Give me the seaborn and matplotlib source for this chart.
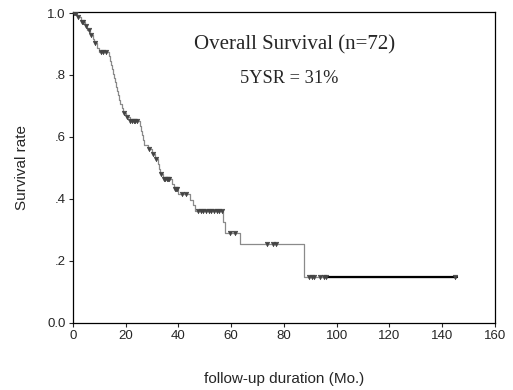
import numpy as np
import pandas as pd
import matplotlib
matplotlib.use("Agg")
import matplotlib.pyplot as plt
import seaborn as sns

# Kaplan-Meier step data (time in months, survival after the drop)
event_times = [0, 1.5, 3, 4.5, 5.5, 6.5, 7.5, 8.2, 9.0, 10.0, 13.7, 14.0, 14.4, 14.8,
               15.2, 15.5, 15.8, 16.2, 16.6, 17.0, 17.5, 18.0, 18.5, 19.0, 20.0, 21.5,
               25.5, 25.9, 26.2, 26.6, 27.0, 28.5, 30.0, 31.0, 32.3, 32.7, 33.0, 34.0,
               37.6, 38.2, 40.0, 44.5, 45.5, 46.4, 57.0, 57.6, 63.3, 87.5]
survival = [1.0, 0.986, 0.972, 0.958, 0.944, 0.930, 0.916, 0.902, 0.888, 0.874, 0.860,
            0.846, 0.832, 0.818, 0.804, 0.790, 0.776, 0.762, 0.748, 0.734, 0.720, 0.706,
            0.692, 0.678, 0.664, 0.650, 0.635, 0.620, 0.605, 0.590, 0.575, 0.560, 0.545,
            0.530, 0.514, 0.498, 0.482, 0.466, 0.449, 0.432, 0.415, 0.397, 0.379, 0.361,
            0.325, 0.290, 0.255, 0.148]
last_followup = 145.5

# censored observations (months)
censor_times = [0.5, 1.0, 1.2, 2.0, 3.5, 4.0, 5.0, 6.0, 7.0, 8.5, 10.5, 11.5, 12.5,
                19.5, 20.5, 21.8, 22.5, 23.0, 23.5, 24.2, 29.0, 30.5, 31.5, 33.5, 34.5,
                35.0, 35.5, 36.0, 36.5, 38.6, 39.2, 39.6, 41.5, 43.0, 47.5, 48.5, 49.5,
                50.5, 51.5, 52.5, 53.5, 54.5, 55.5, 56.5, 59.5, 61.5, 73.5, 76.0, 77.0,
                89.5, 90.5, 91.5, 93.5, 95.0, 96.0, 145.0]

xticks = [0, 20, 40, 60, 80, 100, 120, 140, 160]
yticks = [0.0, 0.2, 0.4, 0.6, 0.8, 1.0]
ytick_labels = ["0.0", ".2", ".4", ".6", ".8", "1.0"]

title_text = "Overall Survival (n=72)"
sub_text = "5YSR = 31%"

sns.set_style("ticks")
plt.rcParams["font.family"] = ["Liberation Sans", "DejaVu Sans"]

fig = plt.figure(figsize=(5.13, 3.90), dpi=100)
ax = fig.add_axes([0.142, 0.172, 0.823, 0.797])

steps = pd.DataFrame({"time": event_times + [last_followup],
                      "surv": survival + [survival[-1]]})
sns.lineplot(data=steps, x="time", y="surv", drawstyle="steps-post",
             color="#8a8a8a", lw=0.9, ax=ax, estimator=None, sort=False)
tail = steps.iloc[-2:].copy()
tail.iloc[0, 0] = 96.0
sns.lineplot(data=tail, x="time", y="surv", color="black", lw=1.6, ax=ax,
             estimator=None, sort=False)

et = np.array(event_times)
sv = np.array(survival)
c_idx = np.searchsorted(et, np.array(censor_times), side="right") - 1
cens = pd.DataFrame({"time": censor_times, "surv": sv[c_idx]})
sns.scatterplot(data=cens, x="time", y="surv", marker="v", s=11,
                color="#444444", edgecolor="#444444", linewidth=0.4, ax=ax, zorder=3)

ax.set_xlim(0, 160)
ax.set_ylim(0, 1.003)
ax.set_xticks(xticks)
ax.set_yticks(yticks)
ax.set_yticklabels(ytick_labels)
ax.tick_params(axis="both", labelsize=9.5, length=3, width=0.8, direction="out", pad=2)
for s in ax.spines.values():
    s.set_linewidth(0.9)
    s.set_color("black")

ax.set_xlabel("follow-up duration (Mo.)", fontsize=11, labelpad=22)
ax.set_ylabel("Survival rate", fontsize=11, labelpad=13)

ax.text(84, 0.897, title_text, ha="center", va="center", fontsize=15,
        family=["Liberation Serif", "DejaVu Serif"])
ax.text(82, 0.79, sub_text, ha="center", va="center", fontsize=13.2,
        family=["Liberation Serif", "DejaVu Serif"])

fig.savefig("out.png", dpi=100)
